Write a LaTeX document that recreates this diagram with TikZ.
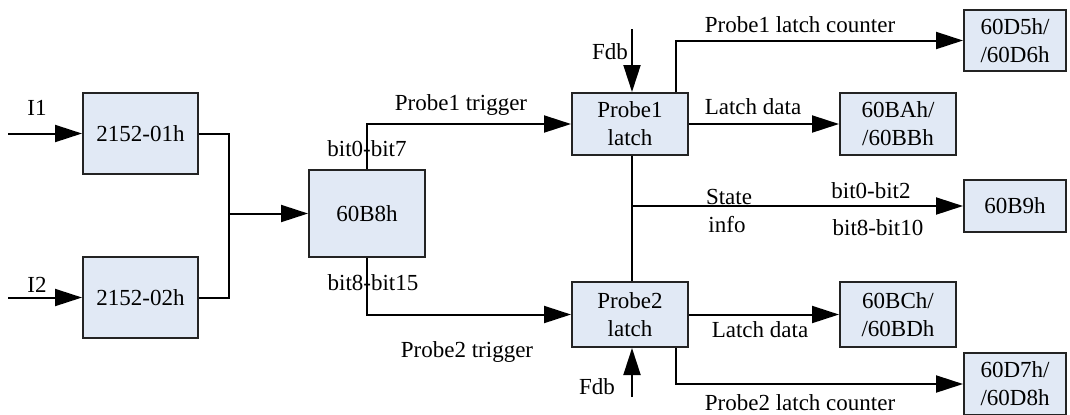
\documentclass[tikz,border=0pt]{standalone}
\usepackage{fontspec}
\setmainfont{Liberation Serif}
\usetikzlibrary{arrows.meta}
\definecolor{boxfill}{RGB}{225,233,245}
\definecolor{boxline}{RGB}{35,35,35}

\begin{document}
\begin{tikzpicture}[x=0.5pt,y=-0.5pt,
    font=\fontsize{11.5}{14}\selectfont,
    blk/.style={draw=boxline,fill=boxfill,line width=1pt,align=center,inner sep=0pt},
    wire/.style={line width=1pt},
    arr/.style={wire,-{Triangle[length=13.5pt,width=8.5pt]}}]
            \useasboundingbox (0,0) rectangle (1070,414);
            % blocks
            \node[blk,minimum width=57.5pt,minimum height=40.5pt] (r01) at (140.5,133.5) {2152-01h};
            \node[blk,minimum width=57.5pt,minimum height=40.5pt] (r02) at (140.5,297.5) {2152-02h};
            \node[blk,minimum width=58pt,minimum height=43.5pt] (b8) at (367,213.5) {60B8h};
            \node[blk,minimum width=58pt,minimum height=31pt] (p1) at (630,124) {Probe1\\latch};
            \node[blk,minimum width=58pt,minimum height=32.5pt] (p2) at (630,314.5) {Probe2\\latch};
            \node[blk,minimum width=58pt,minimum height=31pt] (ba) at (898,124) {60BAh/\\/60BBh};
            \node[blk,minimum width=58pt,minimum height=32.5pt] (bc) at (898,314.5) {60BCh/\\/60BDh};
            \node[blk,minimum width=51pt,minimum height=30.5pt] (d5) at (1015,40.5) {60D5h/\\/60D6h};
            \node[blk,minimum width=51pt,minimum height=26pt] (b9) at (1015,206) {60B9h};
            \node[blk,minimum width=51pt,minimum height=31pt] (d7) at (1015,384) {60D7h/\\/60D8h};
            % free ends
            \coordinate (i1) at (8,133.5);
            \coordinate (i2) at (8,297.5);
            \coordinate (j) at (229,213.5);
            \coordinate (f1) at (632,29);
            \coordinate (f2) at (632,397);
            \coordinate (st) at (632,206);
            % connectors
            \draw[arr] (i1) -- (r01);
            \draw[arr] (i2) -- (r02);
            \draw[wire] (r01.east) -| (j) |- (r02.east);
            \draw[arr] (j) -- (b8);
            \draw[arr] (b8.north) |- (p1.west);
            \draw[arr] (b8.south) |- (p2.west);
            \draw[arr] (f1) -- (f1 |- p1.north);
            \draw[arr] (f2) -- (f2 |- p2.south);
            \draw[wire] (p1.south -| st) -- (p2.north -| st);
            \draw[arr] (st) -- (b9);
            \draw[arr] (p1) -- (ba);
            \draw[arr] (p2) -- (bc);
            \draw[arr] (p1.north east) ++(-13,0) |- (d5.west);
            \draw[arr] (p2.south east) ++(-13,0) |- (d7.west);
            % labels
            \node (li1) at (37,108) {I1};
            \node (li2) at (37,285) {I2};
            \node (lb07) at (367,149) {bit0-bit7};
            \node (lb815) at (373,283) {bit8-bit15};
            \node (lt1) at (461,105) {Probe1 trigger};
            \node (lt2) at (467,352) {Probe2 trigger};
            \node (lf1) at (610,52) {Fdb};
            \node (lf2) at (597,387) {Fdb};
            \node (lc1) at (800,25) {Probe1 latch counter};
            \node (lc2) at (800,403) {Probe2 latch counter};
            \node (ld1) at (753,107) {Latch data};
            \node (ld2) at (760,330) {Latch data};
            \node (ls) at (729,197) {State};
            \node (li) at (727,225) {info};
            \node (lb02) at (871,191) {bit0-bit2};
            \node (lb810) at (878,228) {bit8-bit10};
        \end{tikzpicture}
\end{document}
